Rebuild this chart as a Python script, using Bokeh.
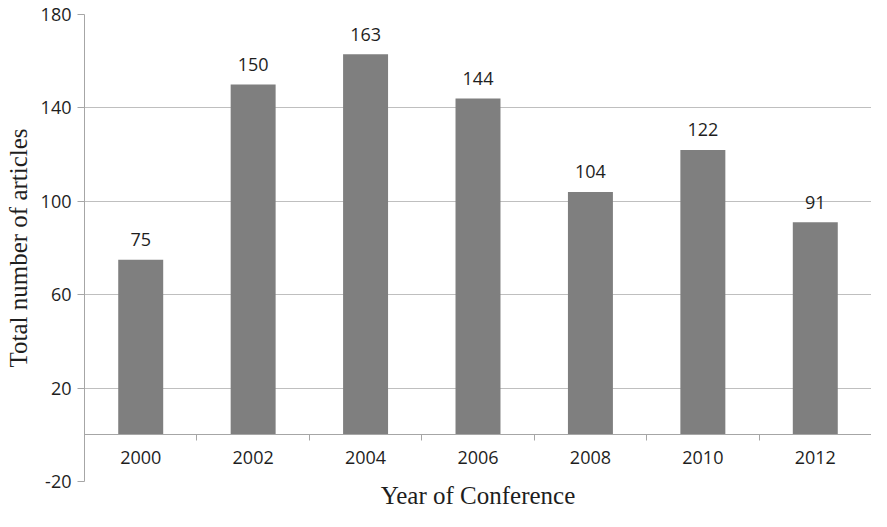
from bokeh.plotting import figure
from bokeh.models import Range1d, LinearAxis, FixedTicker, ColumnDataSource
from bokeh.core.properties import value
from bokeh.embed import file_html
from bokeh.resources import INLINE

years = ["2000", "2002", "2004", "2006", "2008", "2010", "2012"]
articles = [75, 150, 163, 144, 104, 122, 91]
y_ticks = [-20, 20, 60, 100, 140, 180]

x_pos = [i + 0.5 for i in range(len(years))]
boundaries = list(range(1, len(years)))

src = ColumnDataSource(dict(x=x_pos, top=articles, label=[str(v) for v in articles]))

GRID = "#bfbfbf"
AXIS = "#a6a6a6"
TXT = "#1e1e1e"

p = figure(width=871, height=511, output_backend="svg", toolbar_location=None,
           x_range=Range1d(0, len(years)), y_range=Range1d(min(y_ticks), max(y_ticks)),
           x_axis_type=None, min_border_left=84, min_border_right=0,
           min_border_top=14, min_border_bottom=20)
p.outline_line_color = None
p.background_fill_color = "white"

p.vbar(x="x", top="top", bottom=0, width=0.4, source=src,
       fill_color="#7f7f7f", line_color=None)
p.text(x="x", y="top", text="label", source=src, text_align="center",
       text_baseline="alphabetic", y_offset=-20,
       text_font=value("Open Sans"), text_font_size="18px", text_color=TXT)

# y axis
ya = p.yaxis[0]
ya.ticker = FixedTicker(ticks=y_ticks)
ya.major_label_overrides = {t: str(t) for t in y_ticks}
ya.major_tick_out = 7
ya.major_tick_in = 0
ya.minor_tick_line_color = None
ya.axis_line_color = AXIS
ya.major_tick_line_color = AXIS
ya.major_label_text_font = "Open Sans"
ya.major_label_text_font_size = "18px"
ya.major_label_text_color = TXT
ya.major_label_standoff = 6
ya.axis_label = "Total number of articles"
ya.axis_label_text_font = "Liberation Serif"
ya.axis_label_text_font_size = "25px"
ya.axis_label_text_font_style = "normal"
ya.axis_label_text_color = TXT
ya.axis_label_standoff = 6
p.ygrid.ticker = FixedTicker(ticks=y_ticks)
p.ygrid.grid_line_color = GRID

# category separators on the zero line
sep_axis = LinearAxis(fixed_location=0, ticker=FixedTicker(ticks=boundaries),
                      major_tick_out=6, major_tick_in=0, minor_tick_line_color=None,
                      axis_line_color=AXIS, major_tick_line_color=AXIS,
                      major_label_text_alpha=0)
p.add_layout(sep_axis, "below")

# category labels
lab_axis = LinearAxis(fixed_location=0, ticker=FixedTicker(ticks=x_pos),
                      major_label_overrides={x: y for x, y in zip(x_pos, years)},
                      major_tick_out=0, major_tick_in=0, major_tick_line_color=None,
                      minor_tick_line_color=None, axis_line_color=None,
                      major_label_standoff=16, major_label_text_font="Open Sans",
                      major_label_text_font_size="18px", major_label_text_color=TXT)
p.add_layout(lab_axis, "below")

# axis title
title_axis = LinearAxis(ticker=FixedTicker(ticks=[]), axis_line_color=None,
                        major_tick_line_color=None, minor_tick_line_color=None,
                        major_tick_out=0, major_tick_in=0,
                        axis_label="Year of Conference",
                        axis_label_text_font="Liberation Serif",
                        axis_label_text_font_size="25px",
                        axis_label_text_font_style="normal",
                        axis_label_text_color=TXT, axis_label_standoff=0)
p.add_layout(title_axis, "below")

open("out.html", "w").write(file_html(p, INLINE))
